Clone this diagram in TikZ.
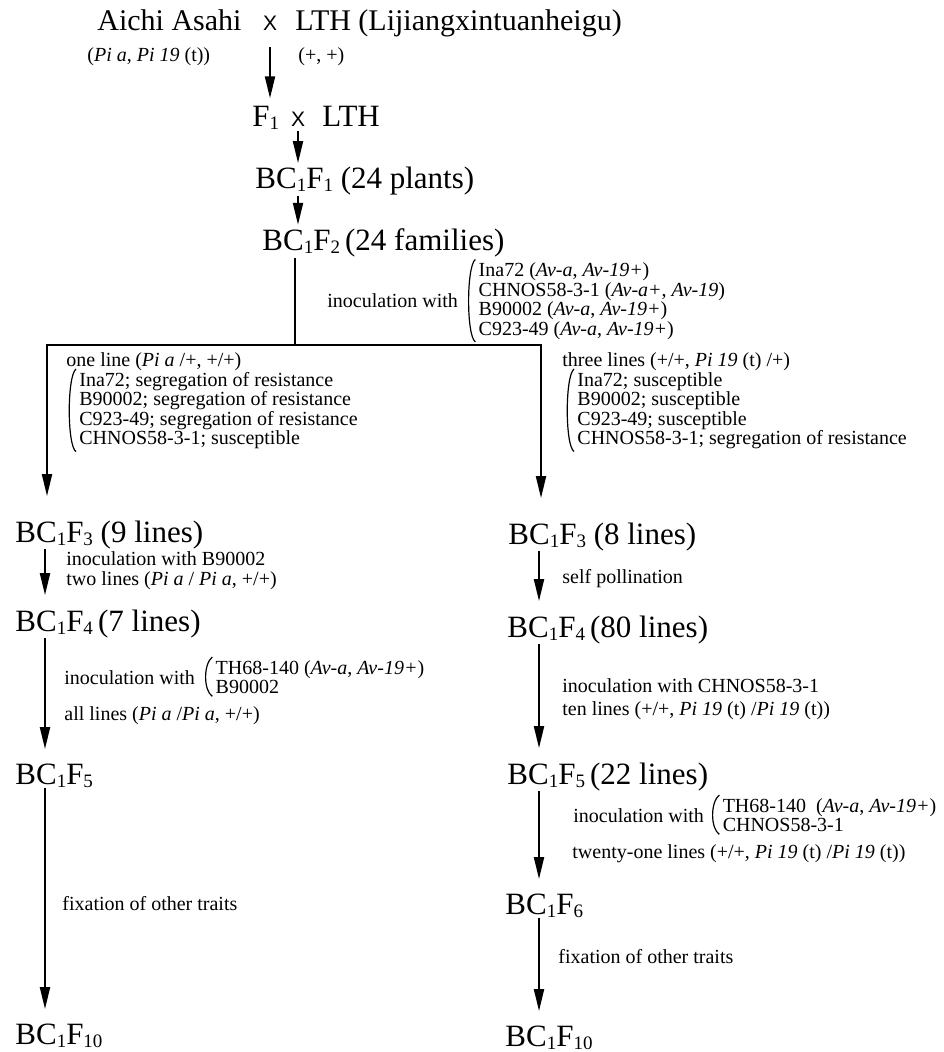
\documentclass[tikz,border=0pt]{standalone}
\usepackage{fontspec}
\setmainfont{Liberation Serif}
\newfontfamily\crossfont{Liberation Sans}
\usetikzlibrary{arrows.meta,positioning}

\newcommand{\sbs}[1]{\raisebox{-1.5pt}{\fontsize{9.5}{10}\selectfont#1}}
\newcommand{\BC}[1]{BC\sbs{1}F\sbs{#1}}
\newcommand{\crs}{{\crossfont\fontsize{10.5}{12}\selectfont X}}
\newcommand{\brc}[1]{\draw[line width=0.6pt] ([xshift=-1.5pt,yshift=1.5pt]#1.north west) .. controls ([xshift=-6pt,yshift=-2pt]#1.north west) and ([xshift=-6pt,yshift=2pt]#1.south west) .. ([xshift=-1.5pt,yshift=-1pt]#1.south west);}

\begin{document}
\begin{tikzpicture}[x=0.5pt,y=-0.5pt,
  gen/.style={font=\fontsize{15.5}{18}\selectfont, inner sep=0pt, anchor=base west},
  note/.style={font=\fontsize{10}{9.75}\selectfont, inner sep=0pt, anchor=base west},
  list/.style={note, align=left, anchor=north west},
  arr/.style={-{Triangle[length=11pt,width=5pt]}, line width=1pt, shorten >=2pt},
  arrlow/.style={arr, shorten >=7pt}]
  \useasboundingbox (0,0) rectangle (943,1052);

  % Parents
  \node[gen, font=\fontsize{15}{18}\selectfont] (aichi) at (97,31) {Aichi Asahi};
  \node[gen, anchor=base] (cross1) at (270,31) {\crs};
  \node[gen, font=\fontsize{15}{18}\selectfont] (lth) at (295,31) {LTH (Lijiangxintuanheigu)};
  \node[note] (aichigt) at (87,62) {(\textit{Pi a}, \textit{Pi 19} (t))};
  \node[note] (lthgt) at (298,62) {(+, +)};

  % F1 and backcross
  \node[gen] (f1) at (252,127) {F\sbs{1}};
  \node[gen, anchor=base] (cross2) at (298,127) {\crs};
  \node[gen] (lthb) at (322,127) {LTH};
  \node[gen] (bcf1) at (255,189) {\BC{1} (24 plants)};
  \node[gen] (bcf2) at (262,251) {\BC{2}\,(24 families)};

  \draw[arr, shorten >=4pt] ([yshift=-8pt]cross1.south) -- (cross1 |- f1.north);
  \draw[arr] ([yshift=-2pt]cross2.south) -- (cross2 |- bcf1.north);
  \draw[arr] (bcf1.south -| cross2) -- (cross2 |- bcf2.north);

  % Inoculation of BC1F2
  \node[note] (inoc1) at (327,308) {inoculation with};
  \node[list, right=10pt of inoc1] (strains1) {Ina72 (\textit{Av-a}, \textit{Av-19+})\\
    CHNOS58-3-1 (\textit{Av-a+}, \textit{Av-19})\\
    B90002 (\textit{Av-a}, \textit{Av-19+})\\
    C923-49 (\textit{Av-a}, \textit{Av-19+})};
  \brc{strains1}

  % Split
  \node[gen] (bcf3a) at (15,542) {\BC{3} (9 lines)};
  \node[gen] (bcf3b) at (508,544) {\BC{3} (8 lines)};
  \coordinate (split) at (295,345);
  \coordinate (jl) at (47,345);
  \coordinate (jr) at (541,345);
  \draw[line width=1pt] (bcf2.south -| split) -- (split);
  \draw[arr, shorten >=12pt] (split) -| (jl |- bcf3a.north);
  \draw[arr, shorten >=12pt] (split) -| (jr |- bcf3b.north);

  \node[note] (onel) at (66,367) {one line (\textit{Pi a} /+, +/+)};
  \node[list] (segl) at (79,372) {Ina72; segregation of resistance\\
    B90002; segregation of resistance\\
    C923-49; segregation of resistance\\
    CHNOS58-3-1; susceptible};
  \brc{segl}
  \node[note] (threel) at (562,367) {three lines (+/+, \textit{Pi 19} (t) /+)};
  \node[list] (segr) at (577,372) {Ina72; susceptible\\
    B90002; susceptible\\
    C923-49; susceptible\\
    CHNOS58-3-1; segregation of resistance};
  \brc{segr}

  % Left line
  \coordinate (cl) at (45,0);
  \node[gen] (bcf4a) at (15,631) {\BC{4}\,(7 lines)};
  \node[gen] (bcf5a) at (15,784) {\BC{5}};
  \node[gen] (bcf10a) at (15,1044) {\BC{10}};
  \draw[arrlow] (bcf3a.south -| cl) -- (bcf4a.north -| cl);
  \draw[arrlow] (bcf4a.south -| cl) -- (bcf5a.north -| cl);
  \draw[arrlow] (bcf5a.south -| cl) -- (bcf10a.north -| cl);

  \node[note] (inocl1) at (66,565) {inoculation with B90002};
  \node[note] (twol) at (66,585) {two lines (\textit{Pi a} / \textit{Pi a}, +/+)};
  \node[note] (inocl2) at (64,684) {inoculation with};
  \node[list, right=10pt of inocl2] (strainsl) {TH68-140 (\textit{Av-a}, \textit{Av-19+})\\
    B90002};
  \brc{strainsl}
  \node[note] (alll) at (64,720) {all lines (\textit{Pi a} /\textit{Pi a}, +/+)};
  \node[note] (fixl) at (62,910) {fixation of other traits};

  % Right line
  \coordinate (cr) at (539,0);
  \node[gen] (bcf4b) at (507,637) {\BC{4}\,(80 lines)};
  \node[gen] (bcf5b) at (507,784) {\BC{5}\,(22 lines)};
  \node[gen] (bcf6b) at (505,914) {\BC{6}};
  \node[gen] (bcf10b) at (505,1046) {\BC{10}};
  \draw[arrlow] (bcf3b.south -| cr) -- (bcf4b.north -| cr);
  \draw[arrlow] (bcf4b.south -| cr) -- (bcf5b.north -| cr);
  \draw[arrlow] (bcf5b.south -| cr) -- (bcf6b.north -| cr);
  \draw[arrlow] (bcf6b.south -| cr) -- (bcf10b.north -| cr);

  \node[note] (selfr) at (562,583) {self pollination};
  \node[note] (inocr1) at (562,692) {inoculation with CHNOS58-3-1};
  \node[note] (tenr) at (562,715) {ten lines (+/+, \textit{Pi 19} (t) /\textit{Pi 19} (t))};
  \node[note] (inocr2) at (573,822) {inoculation with};
  \node[list, right=9pt of inocr2] (strainsr) {TH68-140\ \ (\textit{Av-a}, \textit{Av-19+})\\
    CHNOS58-3-1};
  \brc{strainsr}
  \node[note] (twentyr) at (572,858) {twenty-one lines (+/+, \textit{Pi 19} (t) /\textit{Pi 19} (t))};
  \node[note] (fixr) at (558,963) {fixation of other traits};
\end{tikzpicture}
\end{document}
